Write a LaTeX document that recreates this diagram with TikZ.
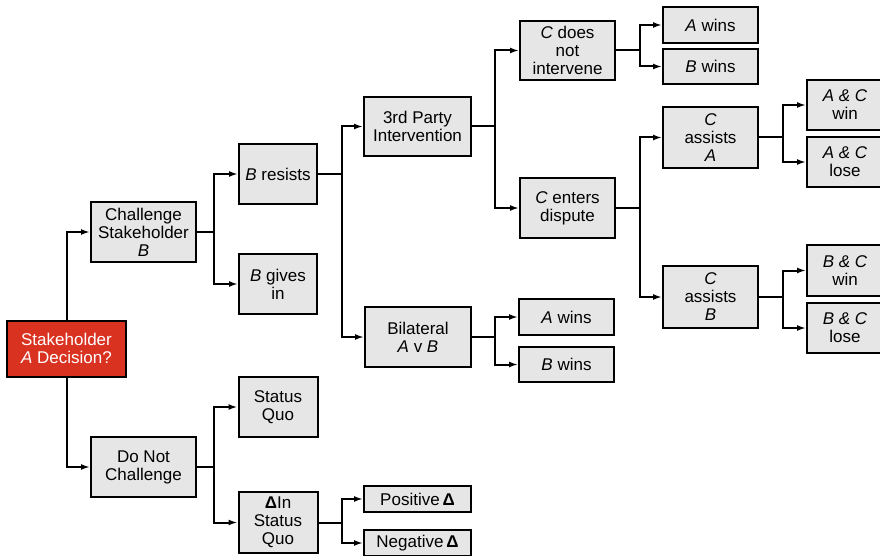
\documentclass[tikz,border=0pt]{standalone}
\usepackage{fontspec}
\setmainfont{Liberation Sans}
\usetikzlibrary{arrows.meta}
\definecolor{boxgray}{RGB}{230,230,230}
\definecolor{decired}{RGB}{218,50,32}

\begin{document}
\begin{tikzpicture}[x=1pt, y=-1pt,
    box/.style={draw, line width=2pt, fill=boxgray, align=center, inner sep=0pt,
      font=\fontsize{17}{18}\selectfont},
    arr/.style={line width=2pt, -{Latex[length=9pt,width=6pt]}}]
          \useasboundingbox (0,0) rectangle (880,556);
          \node [box, fill=decired, text=white, minimum width=119, minimum height=56] (root) at (66.5, 348.5) {Stakeholder\\\textit{A} Decision?};
          \node [box, minimum width=105, minimum height=60] (chal) at (143.5, 232) {Challenge\\Stakeholder\\\textit{B}};
          \node [box, minimum width=105, minimum height=60] (nochal) at (143.5, 467) {Do Not\\Challenge};
          \node [box, minimum width=78, minimum height=60] (bres) at (278, 174) {\textit{B} resists};
          \node [box, minimum width=78, minimum height=60] (bgive) at (278, 284) {\textit{B} gives\\in};
          \node [box, minimum width=79, minimum height=60] (squo) at (278, 407) {Status\\Quo};
          \node [box, minimum width=79, minimum height=61] (dsq) at (278, 522.5) {\textbf{Δ}In\\Status\\Quo};
          \node [box, minimum width=107, minimum height=59] (third) at (417.5, 126.5) {3rd Party\\Intervention};
          \node [box, minimum width=106, minimum height=60] (bilat) at (418, 337) {Bilateral\\\textit{A} v \textit{B}};
          \node [box, minimum width=107, minimum height=26] (pos) at (417.5, 499) {Positive\,\textbf{Δ}};
          \node [box, minimum width=107, minimum height=26] (neg) at (417.5, 543) {Negative\,\textbf{Δ}};
          \node [box, minimum width=95, minimum height=59] (cno) at (567.5, 50.5) {\textit{C} does\\not\\intervene};
          \node [box, minimum width=95, minimum height=59] (cent) at (567.5, 208) {\textit{C} enters\\dispute};
          \node [box, minimum width=95, minimum height=36] (awinl) at (566.5, 317) {\textit{A} wins};
          \node [box, minimum width=95, minimum height=35] (bwinl) at (566.5, 364.5) {\textit{B} wins};
          \node [box, minimum width=95, minimum height=36] (awint) at (710.5, 25) {\textit{A} wins};
          \node [box, minimum width=95, minimum height=35] (bwint) at (710.5, 66.5) {\textit{B} wins};
          \node [box, minimum width=95, minimum height=61] (cassa) at (710.5, 137.5) {\textit{C}\\assists\\\textit{A}};
          \node [box, minimum width=95, minimum height=62] (cassb) at (710.5, 297) {\textit{C}\\assists\\\textit{B}};
          \node [box, minimum width=76, minimum height=50] (acwin) at (845, 105) {\textit{A \& C}\\win};
          \node [box, minimum width=76, minimum height=50] (aclose) at (845, 162) {\textit{A \& C}\\lose};
          \node [box, minimum width=76, minimum height=51] (bcwin) at (845, 270.5) {\textit{B \& C}\\win};
          \node [box, minimum width=76, minimum height=50] (bclose) at (845, 328) {\textit{B \& C}\\lose};
          \draw [arr] (root.north) |- (chal.west);
          \draw [arr] (root.south) |- (nochal.west);
          \draw [arr] (chal.east) -- ++(17,0) |- (bres.west);
          \draw [arr] (chal.east) -- ++(17,0) |- (bgive.west);
          \draw [arr] (nochal.east) -- ++(17,0) |- (squo.west);
          \draw [arr] (nochal.east) -- ++(17,0) |- (dsq.west);
          \draw [arr] (bres.east) -- ++(24,0) |- (third.west);
          \draw [arr] (bres.east) -- ++(24,0) |- (bilat.west);
          \draw [arr] (dsq.east) -- ++(23,0) |- (pos.west);
          \draw [arr] (dsq.east) -- ++(23,0) |- (neg.west);
          \draw [arr] (third.east) -- ++(23,0) |- (cno.west);
          \draw [arr] (third.east) -- ++(23,0) |- (cent.west);
          \draw [arr] (bilat.east) -- ++(23,0) |- (awinl.west);
          \draw [arr] (bilat.east) -- ++(23,0) |- (bwinl.west);
          \draw [arr] (cno.east) -- ++(24,0) |- (awint.west);
          \draw [arr] (cno.east) -- ++(24,0) |- (bwint.west);
          \draw [arr] (cent.east) -- ++(24,0) |- (cassa.west);
          \draw [arr] (cent.east) -- ++(24,0) |- (cassb.west);
          \draw [arr] (cassa.east) -- ++(24,0) |- (acwin.west);
          \draw [arr] (cassa.east) -- ++(24,0) |- (aclose.west);
          \draw [arr] (cassb.east) -- ++(24,0) |- (bcwin.west);
          \draw [arr] (cassb.east) -- ++(24,0) |- (bclose.west);
        \end{tikzpicture}
\end{document}
